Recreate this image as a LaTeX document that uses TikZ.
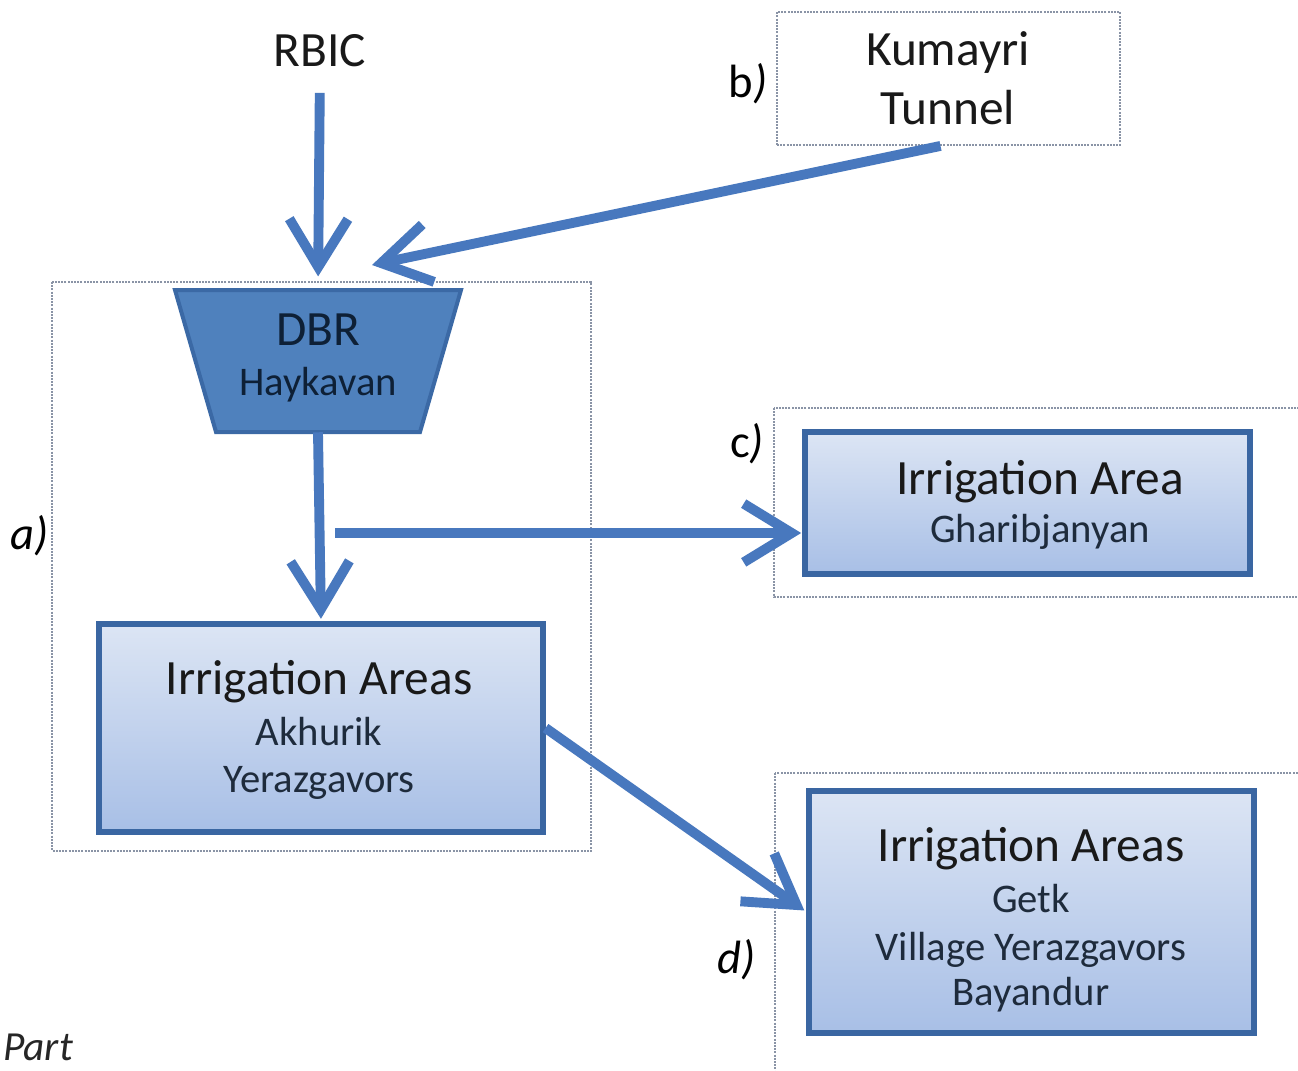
\documentclass[tikz,border=0pt]{standalone}
\usepackage{fontspec}
\setmainfont{Carlito}
\usetikzlibrary{arrows.meta,fit}
\definecolor{arrowblue}{HTML}{4878BE}
\definecolor{boxedge}{HTML}{3A66A2}
\definecolor{trapfill}{HTML}{4F81BD}
\definecolor{trapedge}{HTML}{3B69A5}
\definecolor{gradtop}{HTML}{DCE5F4}
\definecolor{gradbot}{HTML}{A8BFE6}
\definecolor{subtext}{HTML}{1E2B3C}
\definecolor{dbrtext}{HTML}{0E2036}
\definecolor{groupedge}{HTML}{8A94A6}
\tikzset{
  flow/.style={draw=arrowblue, line width=7.4pt, -{Straight Barb[length=36pt,width=44pt,line width=7.4pt]}},
  areabox/.style={draw=boxedge, line width=3.8pt, top color=gradtop, bottom color=gradbot, inner sep=0pt},
  groupbox/.style={draw=groupedge, line width=1.4pt, dash pattern=on 1.5pt off 0.9pt},
  bigtxt/.style={anchor=base, inner sep=0pt, font=\fontsize{37}{44}\selectfont, text=black!90},
  smalltxt/.style={anchor=base, inner sep=0pt, font=\fontsize{30.5}{36}\selectfont, text=subtext},
  lbl/.style={anchor=base, inner sep=0pt, font=\fontsize{35}{40}\selectfont, text=black},
}
\begin{document}
\begin{tikzpicture}[x=0.75pt,y=-0.75pt]
\clip (0,0) rectangle (1298,1070);
\fill[white] (0,0) rectangle (1298,1070);
% group frames
\draw[groupbox] (52,282) rectangle (591,851);
\draw[groupbox] (774,408) rectangle (1310,597);
\draw[groupbox] (775,773) rectangle (1310,1085);
% Kumayri tunnel
\node[groupbox, fit={(777,12) (1120,145)}, inner sep=0pt] (kum) {};
\node[bigtxt] (kum1) at (948,66) {Kumayri};
\node[bigtxt] (kum2) at (948,125) {Tunnel};
% RBIC
\node[bigtxt] (rbic) at (320,67) {RBIC};
% DBR trapezoid
\fill[trapfill, draw=trapedge, line width=3pt, line join=miter]
  (175,290) -- (461,290) -- (420,432) -- (216,432) -- cycle;
\node[fit={(175,290) (461,432)}, inner sep=0pt] (dbr) {};
\node[bigtxt, text=dbrtext] (dbr1) at (318,345) {DBR};
\node[smalltxt, text=dbrtext] (dbr2) at (318,395) {Haykavan};
% irrigation area boxes
\node[areabox, fit={(99,624) (543,832)}] (akh) {};
\node[bigtxt] (akh1) at (319,694) {Irrigation Areas};
\node[smalltxt] (akh2) at (319,745) {Akhurik};
\node[smalltxt] (akh3) at (319,792) {Yerazgavors};
\node[areabox, fit={(805,432) (1250,574)}] (gha) {};
\node[bigtxt] (gha1) at (1040,494) {Irrigation Area};
\node[smalltxt] (gha2) at (1040,542) {Gharibjanyan};
\node[areabox, fit={(809,791) (1254,1033)}] (getk) {};
\node[bigtxt] (getk1) at (1031,861) {Irrigation Areas};
\node[smalltxt] (getk2) at (1031,912) {Getk};
\node[smalltxt] (getk3) at (1031,960) {Village Yerazgavors};
\node[smalltxt] (getk4) at (1031,1005) {Bayandur};
% labels
\node[lbl] (la) at (30,549) {\textit{a)}};
\node[lbl] (lb) at (748,98) {b\textit{)}};
\node[lbl] (lc) at (747,457) {c\textit{)}};
\node[lbl] (ld) at (737,973) {\textit{d)}};
\node[anchor=base, inner sep=0pt, font=\fontsize{31}{36}\selectfont, text=black!85] (part) at (38,1060) {\textit{Part}};
% connectors
\coordinate (kumend) at (372,265);
\coordinate (split) at (335,533);
\draw[flow, shorten <=19pt, shorten >=10pt] (rbic.south) -- (dbr.north);
\draw[flow] ([xshift=-6pt]kum.south) -- (kumend);
\draw[flow, shorten >=2pt] (dbr.south) -- (akh.north);
\draw[flow, shorten >=1pt] (split) -- (split -| gha.west);
\draw[flow, shorten >=2pt] (akh.east) -- (getk.west);
\end{tikzpicture}
\end{document}
